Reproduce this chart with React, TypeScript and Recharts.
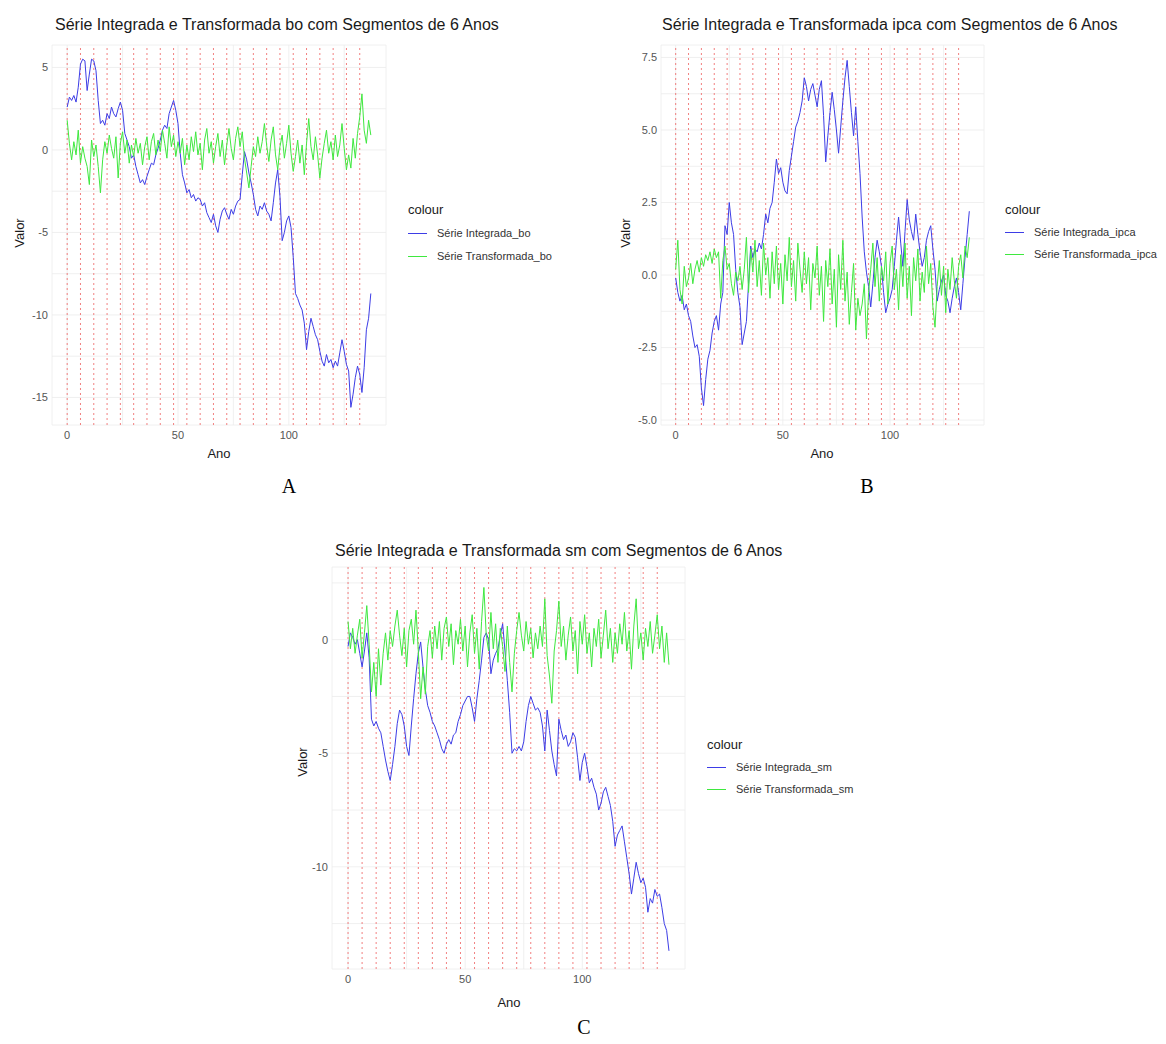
import React from 'react';
import { LineChart, Line, XAxis, YAxis, CartesianGrid, ReferenceLine } from 'recharts';

const integradaBo = [
  2.6, 3.2, 3.0, 3.3, 2.9, 3.8, 5.2, 5.5, 5.4, 3.6,
  4.6, 5.5, 5.4, 4.8, 3.0, 1.6, 1.8, 1.5, 2.2, 1.9,
  2.6, 2.2, 2.0, 2.5, 2.9, 2.4, 1.0, 0.6, 0.2, -0.5,
  -0.3, -1.0, -1.5, -2.0, -1.8, -2.1, -1.6, -1.2, -0.8, -0.9,
  -0.3, 0.1, 0.6, 1.2, 1.5, 1.3, 2.2, 2.6, 3.0, 2.4,
  1.6, -0.2, -1.5, -2.0, -2.6, -2.4, -2.9, -2.7, -3.1, -2.9,
  -3.0, -3.4, -3.2, -3.8, -4.1, -4.4, -3.9, -4.6, -5.0, -4.2,
  -3.7, -3.5, -3.9, -4.2, -3.6, -3.9, -3.4, -3.1, -3.0, -1.5,
  -0.1, -0.6, -1.4, -2.0, -2.7, -3.6, -4.0, -3.4, -3.6, -3.2,
  -3.7, -3.9, -4.3, -3.2, -2.0, -1.2, -2.8, -5.5, -5.0, -4.3,
  -4.0, -4.7, -6.5, -8.7, -9.0, -9.4, -9.7, -10.5, -12.1, -11.0,
  -10.2, -10.7, -11.2, -11.5, -12.2, -12.8, -13.1, -12.4, -12.9, -12.7,
  -13.2, -12.8, -13.1, -12.3, -11.5, -12.2, -13.0, -13.4, -15.6, -14.8,
  -13.8, -13.1, -13.6, -14.7, -13.2, -10.9, -10.2, -8.7,
];
const transformadaBo = [
  1.8, 0.4, -0.6, 0.5, -0.3, 1.2, -0.8, 0.2, -0.5, -1.0,
  -2.1, 0.6, -0.4, 0.3, -1.0, -2.6, -0.6, 0.5, -0.2, 0.9,
  0.1, -0.5, 0.8, -1.7, 0.4, 1.1, -0.2, 0.6, -0.8, 0.3,
  -0.4, 0.7, -0.2, 0.4, -0.9, 0.2, 0.8, -0.6, 0.5, 1.0,
  -0.3, 0.6, -0.1, 1.2, 0.4, -0.5, 1.4, 0.2, 0.9, -0.4,
  0.5, -0.2, 0.7, -0.9, 0.3, -0.6, 0.8, -0.1, 1.1, -0.3,
  0.4, -1.2, 0.6, 1.3, -0.2, 0.5, -0.8, 0.2, 1.0, -0.4,
  0.6, -0.9, 0.3, 1.3, 0.1, -0.6, 0.7, 1.4, 0.2, 1.1,
  -0.5, -1.4, -2.3, -1.0, 0.2, -0.4, 0.8, -0.2, 0.5, 1.6,
  0.3, -0.7, 0.6, 1.4, -0.3, -1.2, 0.2, 0.9, -0.5, 0.4,
  1.5, -0.2, -1.3, -0.4, 0.6, -0.8, 0.3, -1.5, 0.4, 1.9,
  0.2, -0.6, 0.8, -0.3, -1.7, -0.5, 0.4, 1.2, -0.2, 0.5,
  -0.6, 0.9, -0.4, 0.3, 1.6, 0.1, -1.2, -0.3, -1.1, 0.7,
  -0.5, 1.0, 2.0, 3.4, 1.2, 0.4, 1.8, 0.9,
];

// ipca - gráfico B
const integradaIpca = [
  -0.1, -0.6, -0.9, -0.7, -1.2, -1.0, -1.4, -1.6, -2.1, -2.5,
  -2.4, -2.8, -3.9, -4.5, -3.6, -2.9, -2.6, -2.0, -1.6, -1.4,
  -1.9, -1.0, -0.6, 1.7, 1.4, 2.5, 1.8, 1.4, 0.2, -0.6,
  -1.1, -2.4, -2.0, -1.6, -0.3, 1.0, 0.6, 0.9, 0.8, 1.1,
  0.9, 1.4, 2.1, 1.8, 2.3, 2.5, 3.2, 4.0, 3.5, 3.7,
  3.2, 2.9, 2.8, 3.6, 4.1, 4.6, 5.1, 5.3, 5.6, 6.0,
  6.8, 6.5, 6.0, 6.4, 6.6, 6.2, 5.8, 6.4, 6.7, 5.5,
  3.9, 4.8, 5.6, 6.3, 5.7, 5.0, 4.2, 5.1, 6.0, 6.8,
  7.4, 6.5, 5.6, 4.8, 5.8, 4.6, 3.5, 2.0, 0.8, 0.1,
  -0.4, -1.1, -0.3, 0.6, 1.2, 0.8, 0.3, -0.6, -1.3, -1.0,
  -0.8, -0.5, 0.3, 1.2, 2.0, 1.1, 0.3, 1.5, 2.6, 1.9,
  1.5, 1.2, 2.1, 1.4, 0.8, 0.3, 0.6, 1.2, 1.5, 1.7,
  0.9, 0.2, -0.9, -0.5, -0.2, 0.0, -0.7, -0.9, -1.3, -0.8,
  -0.4, -0.1, -0.6, -1.2, -0.3, 0.6, 1.4, 2.2,
];
const transformadaIpca = [
  0.2, 1.2, -0.5, -1.0, 0.3, -0.4, -0.1, 0.4, -0.3, 0.2,
  0.5, 0.1, 0.6, 0.3, 0.7, 0.5, 0.8, 0.4, 0.9, 0.6,
  0.8, -0.8, 0.5, 1.0, 0.2, 0.4, -0.3, -0.7, 0.1, -0.2,
  0.3, -0.5, 0.2, 1.3, -0.6, 0.9, 0.1, 1.2, -0.4, 0.5,
  -0.7, 1.1, 0.0, 0.6, -0.8, 0.8, -0.3, 1.0, -0.5, 0.4,
  -1.0, 0.7, -0.2, 1.3, -0.4, 0.5, -0.9, 1.1, 0.2, -0.6,
  0.8, -0.3, 0.6, -1.2, 0.4, -0.1, 1.0, -0.7, 0.3, -1.6,
  0.5, -0.4, 0.9, -1.0, 0.2, -1.8, 0.7, -0.5, 1.2, -0.9,
  0.1, -1.7, -0.6, 0.4, -1.9, -0.8, -1.4, -1.0, -0.3, -2.2,
  -0.6, 0.2, 1.1, -0.4, 0.6, -0.9, 0.3, -0.2, 0.8, -1.0,
  0.4, 1.0, -0.5, 0.2, -1.2, 0.7, -0.4, 1.1, -0.8, 0.3,
  -1.4, 0.6, -0.2, 0.9, -0.9, 0.1, -0.6, 1.0, -0.3, 0.4,
  -1.1, -1.8, -0.4, 0.5, -0.7, 0.3, -1.3, 0.2, -0.5, 0.6,
  -0.2, -0.8, 0.3, 0.7, -0.1, 1.0, 0.6, 1.3,
];

// sm - gráfico C
const integradaSm = [
  -0.3, 0.3, 0.1, -0.2, 0.0, -0.6, -1.2, -0.5, 0.3, -0.8,
  -3.5, -3.8, -3.6, -3.9, -4.1, -4.7, -5.3, -5.8, -6.2, -5.5,
  -4.7, -3.7, -3.1, -3.3, -3.8, -4.7, -5.1, -3.8, -2.6, -1.5,
  -0.6, -0.1, -1.2, -2.2, -2.9, -3.2, -3.6, -3.8, -4.1, -4.4,
  -4.8, -5.0, -4.6, -4.4, -4.6, -4.2, -4.1, -3.6, -3.3, -2.9,
  -2.7, -2.5, -2.5, -3.0, -3.6, -2.6, -1.8, -0.9, 0.1, 0.3,
  0.0, -1.5, -0.9, -0.6, -0.4, 0.2, 0.7, -0.5, -1.8, -3.2,
  -5.0, -4.8, -4.9, -4.7, -4.9, -4.5, -3.6, -2.9, -2.5, -2.8,
  -3.1, -3.0, -3.2, -3.8, -4.9, -3.1, -4.0, -4.9, -5.5, -6.0,
  -3.5, -4.0, -4.4, -4.2, -4.7, -4.5, -4.1, -4.3, -5.2, -6.2,
  -5.4, -5.0, -5.6, -6.3, -6.1, -6.5, -6.8, -7.5, -7.2, -6.7,
  -6.5, -6.9, -7.3, -8.0, -9.1, -8.6, -8.4, -8.2, -8.9, -9.6,
  -10.3, -11.2, -10.5, -9.8, -10.3, -10.7, -10.5, -10.9, -12.0, -11.4,
  -11.6, -11.0, -11.3, -11.2, -11.8, -12.5, -12.8, -13.7,
];
const transformadaSm = [
  0.8, -0.4, 0.5, -0.6, 0.2, 0.9, -0.8, 0.3, 1.5, -0.2,
  -2.3, -1.0, -2.5, -0.4, -2.0, -0.6, 0.3, -0.9, 0.4, -0.3,
  0.6, 1.3, 0.2, -0.7, 0.5, -1.2, 0.4, 0.9, -0.2, 1.3,
  -0.5, -2.6, -1.2, -2.4, -0.3, 0.4, -0.8, 0.6, -0.4, 0.8,
  -0.9, 0.5, 1.0, -0.3, 0.7, -1.1, 0.4, -0.2, 0.9, -0.5,
  0.6, -1.2, 0.3, 1.1, -0.6, 0.5, -1.3, 0.8, 2.3, 0.2,
  -0.5, 1.2, -0.4, 0.7, -1.0, 0.5, -0.3, -1.4, 0.6, -1.0,
  -2.3, -0.6, 0.4, 1.2, 0.2, -0.5, 0.8, -0.2, 0.5, -0.8,
  0.3, -0.4, 0.6, -0.3, 1.8, -0.7, -1.6, -2.8, -0.5, 0.4,
  1.7, -0.3, 0.6, -0.9, 0.2, 1.0, -0.5, 0.4, -1.5, 0.8,
  -0.2, 1.1, -0.6, 0.3, -1.2, 0.5, -0.3, 0.9, -0.8, 0.2,
  1.3, -0.4, 0.5, -1.0, 0.3, -0.6, 0.7, -0.2, 1.2, -0.5,
  0.4, -1.3, 0.6, 1.8, -0.4, 0.3, -0.9, 0.5, -0.3, 0.8,
  -0.6, 0.2, 1.1, -0.4, 0.6, -1.0, 0.3, -1.1,
];

// inícios dos segmentos de 6 anos
const segmentos = [0, 6, 12, 18, 24, 30, 36, 42, 48, 54, 60, 66, 72, 78, 84, 90, 96, 102, 108, 114, 120, 126, 132];

const xTicks = [0, 25, 50, 75, 100, 125];
const xMajor = [0, 50, 100];
const yTicksBo = [-15, -12.5, -10, -7.5, -5, -2.5, 0, 2.5, 5];
const yMajorBo = [-15, -10, -5, 0, 5];
const yTicksIpca = [-5, -3.75, -2.5, -1.25, 0, 1.25, 2.5, 3.75, 5, 6.25, 7.5];
const yMajorIpca = [-5, -2.5, 0, 2.5, 5, 7.5];
const yTicksSm = [-12.5, -10, -7.5, -5, -2.5, 0, 2.5];
const yMajorSm = [-10, -5, 0];

const AZUL = '#3d3de6';
const VERDE = '#3fe83f';
const FONT = '"Liberation Sans", Arial, sans-serif';

const paineis = [
  {
    id: 'bo', caption: 'A',
    integrada: integradaBo, transformada: transformadaBo,
    yTicks: yTicksBo, yMajor: yMajorBo, yDomain: [-16.67, 6.36], decimals: 0,
    ox: 0, oy: 0, cw: 400, ch: 470, boxW: 583,
    margin: { top: 45, left: 12, right: 14, bottom: 15 },
    title: { left: 55, top: 16 },
    valor: { x: 19, y: 233 }, ano: { x: 219, y: 453 },
    legend: { left: 408, top: 210, gap: 23 },
  },
  {
    id: 'ipca', caption: 'B',
    integrada: integradaIpca, transformada: transformadaIpca,
    yTicks: yTicksIpca, yMajor: yMajorIpca, yDomain: [-5.17, 7.93], decimals: 1,
    ox: 583, oy: 0, cw: 410, ch: 470, boxW: 583,
    margin: { top: 45, left: 38, right: 9, bottom: 15 },
    title: { left: 79, top: 16 },
    valor: { x: 42, y: 233 }, ano: { x: 239, y: 453 },
    legend: { left: 422, top: 210, gap: 22 },
  },
  {
    id: 'sm', caption: 'C',
    integrada: integradaSm, transformada: transformadaSm,
    yTicks: yTicksSm, yMajor: yMajorSm, yDomain: [-14.5, 3.2], decimals: 0,
    ox: 280, oy: 520, cw: 410, ch: 490, boxW: 600,
    margin: { top: 47, left: 12, right: 5, bottom: 11 },
    title: { left: 55, top: 22 },
    valor: { x: 22, y: 242 }, ano: { x: 229, y: 482 },
    legend: { left: 427, top: 225, gap: 22 },
  },
];

function Painel({ p }: { p: any }) {
  const rows = p.integrada.map((v: number, i: number) => ({
    ano: i,
    integrada: v,
    transformada: p.transformada[i],
  }));
  const fmtY = (v: number) => (p.yMajor.includes(v) ? v.toFixed(p.decimals) : '');
  const fmtX = (v: number) => (xMajor.includes(v) ? String(v) : '');

  return (
    <div style={{ position: 'absolute', left: p.ox, top: p.oy, width: p.boxW, height: p.ch }}>
      <LineChart width={p.cw} height={p.ch} data={rows} margin={p.margin}>
        <CartesianGrid stroke="#ececec" strokeWidth={0.8} />
        <XAxis
          type="number" dataKey="ano" domain={[-6.85, 143.85]} ticks={xTicks} interval={0}
          tickFormatter={fmtX} axisLine={false} tickLine={false} tickSize={4} tickMargin={2}
          height={30} allowDataOverflow tick={{ fontSize: 11, fill: '#555', fontFamily: FONT }}
        />
        <YAxis
          type="number" domain={p.yDomain} ticks={p.yTicks} interval={0}
          tickFormatter={fmtY} axisLine={false} tickLine={false} tickSize={1} tickMargin={3}
          width={40} allowDataOverflow tick={{ fontSize: 11, fill: '#555', fontFamily: FONT }}
        />
        {segmentos.map((s) => (
          <ReferenceLine key={s} x={s} stroke="#f06a6a" strokeWidth={1} strokeDasharray="2 3" strokeOpacity={0.85} />
        ))}
        <Line type="linear" dataKey="integrada" stroke={AZUL} strokeWidth={1} dot={false} isAnimationActive={false} />
        <Line type="linear" dataKey="transformada" stroke={VERDE} strokeWidth={1} dot={false} isAnimationActive={false} />
      </LineChart>

      <div style={{ position: 'absolute', left: p.title.left, top: p.title.top, fontSize: 16, lineHeight: '18px', color: '#1a1a1a', whiteSpace: 'nowrap' }}>
        Série Integrada e Transformada {p.id} com Segmentos de 6 Anos
      </div>
      <div style={{ position: 'absolute', left: p.valor.x, top: p.valor.y, transform: 'translate(-50%, -50%) rotate(-90deg)', fontSize: 13, color: '#1a1a1a', whiteSpace: 'nowrap' }}>
        Valor
      </div>
      <div style={{ position: 'absolute', left: p.ano.x, top: p.ano.y, transform: 'translate(-50%, -50%)', fontSize: 13, color: '#1a1a1a' }}>
        Ano
      </div>

      <div style={{ position: 'absolute', left: p.legend.left, top: p.legend.top - 8, fontSize: 13, lineHeight: '16px', color: '#1a1a1a' }}>
        colour
      </div>
      {[
        { nome: `Série Integrada_${p.id}`, cor: AZUL },
        { nome: `Série Transformada_${p.id}`, cor: VERDE },
      ].map((item, k) => (
        <div
          key={item.nome}
          style={{ position: 'absolute', left: p.legend.left, top: p.legend.top + p.legend.gap * (k + 1) - 7, height: 14, whiteSpace: 'nowrap' }}
        >
          <div style={{ position: 'absolute', left: 0, top: 7, width: 19, height: 1, background: item.cor }} />
          <span style={{ position: 'absolute', left: 29, top: 0, fontSize: 11, lineHeight: '14px', color: '#333' }}>{item.nome}</span>
        </div>
      ))}
    </div>
  );
}

export default function App() {
  const captions = [
    { t: 'A', x: 289, y: 486 },
    { t: 'B', x: 867, y: 486 },
    { t: 'C', x: 584, y: 1027 },
  ];
  return (
    <div style={{ position: 'absolute', left: 0, top: 0, width: 1166, height: 1044, background: '#fff', fontFamily: FONT, overflow: 'hidden' }}>
      {paineis.map((p) => (
        <Painel key={p.id} p={p} />
      ))}
      {captions.map((c) => (
        <div
          key={c.t}
          style={{ position: 'absolute', left: c.x, top: c.y, transform: 'translate(-50%, -50%)', fontFamily: '"Liberation Serif", "Times New Roman", serif', fontSize: 20, color: '#000' }}
        >
          {c.t}
        </div>
      ))}
    </div>
  );
}
